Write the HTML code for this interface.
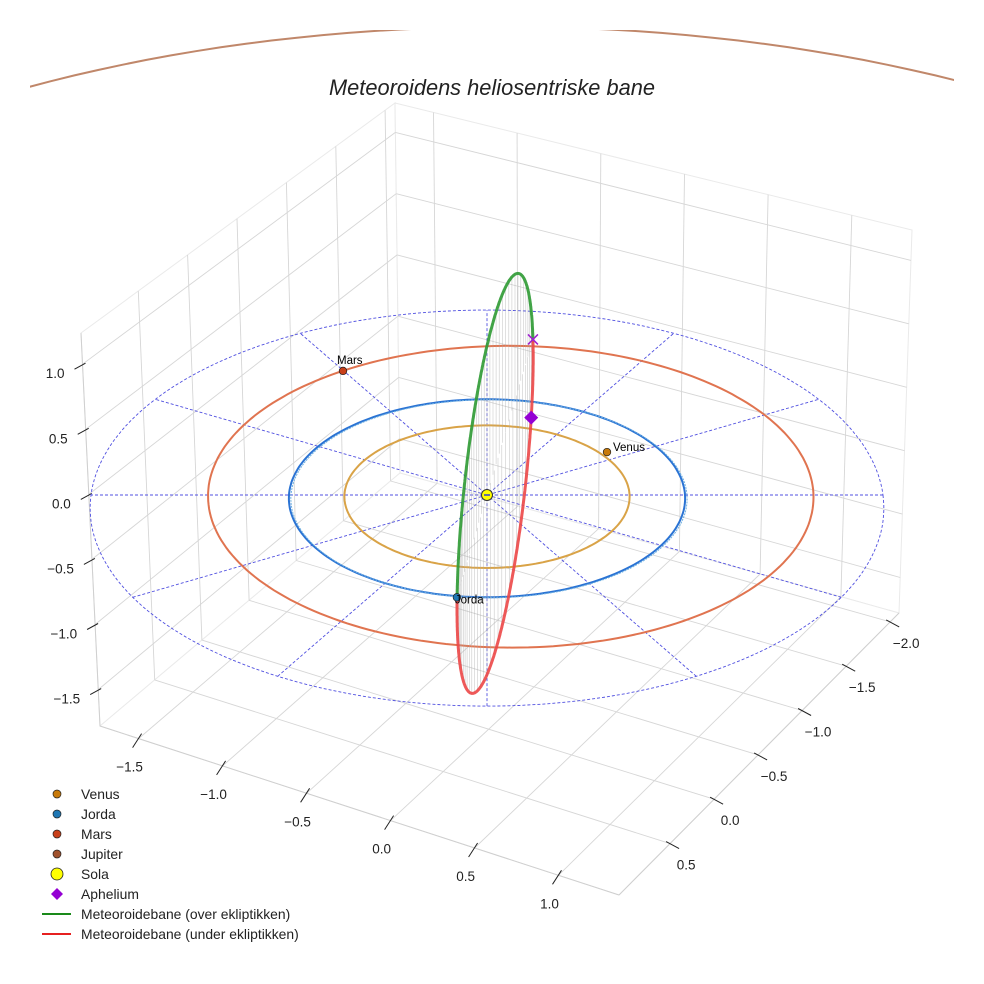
<!DOCTYPE html>
<html><head><meta charset="utf-8"><title>Meteoroidens heliosentriske bane</title>
<style>
html,body{margin:0;padding:0;background:#fff;}
svg{display:block;font-family:"Liberation Sans",sans-serif;}
</style></head>
<body>
<svg id="chart" width="984" height="984" viewBox="0 0 984 984" xmlns="http://www.w3.org/2000/svg">
<defs><clipPath id="topclip"><rect x="30" y="30" width="924" height="100"/></clipPath></defs>
<g id="box"></g>
<g id="plot"></g>
<text x="492" y="95" text-anchor="middle" font-size="21.8" font-style="italic" fill="#222">Meteoroidens heliosentriske bane</text>
<g id="legend"></g>
</svg>
<script>
// ---- data ----
const xTicks = [-1.5, -1.0, -0.5, 0.0, 0.5, 1.0];
const yTicks = [-2.0, -1.5, -1.0, -0.5, 0.0, 0.5];
const zTicks = [-1.5, -1.0, -0.5, 0.0, 0.5, 1.0];
const xRange = [-1.73, 1.36];
const yRange = [-2.1, 1.08];
const zRange = [-1.78, 1.24];
const planetNames = ["Venus", "Jorda", "Mars"];
const planetOrbitRadius = [0.72, 1.0, 1.53];
const planetOrbitCenterX = [0.0, 0.0, 0.12];
const planetOrbitCenterY = [0.0, 0.0, -0.06];
const planetPosX = [0.615, -0.147, -0.76];
const planetPosY = [-0.44, 1.0, -1.31];
const jupiterOrbitRadius = [5.05];
const jupiterOrbitCenter = [0.09, 0.32];
const refCircleRadius = [2.0];
const spokeAngles = [0, 30, 60, 90, 120, 150];
const meteorEcc = [0.27];
const meteorSemiLatus = [1.254];
const meteorPeriArg = [20];
const meteorIncl = [90];
const meteorNodeLon = [98.4];

// ---- projection ----
function f(D){return 1+0.033*D;}
function proj(X,D,Z){const k=f(D);return [487+198*X*k, 495+(99*D-130*Z)*k];}
function projFlat(X,D){return [487+198*X, 495+99*D];}
const Lt=[81,333],Bt=[395,103],Rt=[912,230],Lb=[100,726],Bb=[400,473],Rb=[899,613],Fb=[619,895];
function bil(p00,p10,p11,p01,u,v){
  const a=[p00[0]+(p10[0]-p00[0])*u, p00[1]+(p10[1]-p00[1])*u];
  const b=[p01[0]+(p11[0]-p01[0])*u, p01[1]+(p11[1]-p01[1])*u];
  return [a[0]+(b[0]-a[0])*v, a[1]+(b[1]-a[1])*v];
}
const ux=x=>(x-xRange[0])/(xRange[1]-xRange[0]);
const vy=y=>(yRange[1]-y)/(yRange[1]-yRange[0]);
const wz=z=>(zRange[1]-z)/(zRange[1]-zRange[0]);
const floorPt=(x,y)=>bil(Lb,Fb,Rb,Bb,ux(x),vy(y));
const leftPt=(y,z)=>bil(Lt,Bt,Bb,Lb,vy(y),wz(z));
const rightPt=(x,z)=>bil(Bt,Rt,Rb,Bb,ux(x),wz(z));

const NS="http://www.w3.org/2000/svg";
function el(tag,attrs,parent){const e=document.createElementNS(NS,tag);for(const k in attrs)e.setAttribute(k,attrs[k]);parent.appendChild(e);return e;}
function line(p,q,attrs,parent){return el('line',Object.assign({x1:p[0].toFixed(1),y1:p[1].toFixed(1),x2:q[0].toFixed(1),y2:q[1].toFixed(1)},attrs),parent);}
function pathD(pts){return pts.map((p,i)=>(i?'L':'M')+p[0].toFixed(1)+' '+p[1].toFixed(1)).join('');}

const box=document.getElementById('box');
const plot=document.getElementById('plot');
// panes
[[Lt,Bt,Bb,Lb],[Bt,Rt,Rb,Bb],[Lb,Fb,Rb,Bb]].forEach((q,i)=>{
  const p=el('polygon',{points:q.map(a=>a.join(',')).join(' '),fill:'#fff',stroke:'#eaeaea','stroke-width':1},box);
  
  
});
const gs={stroke:'#d6d6d6','stroke-width':0.9};
xTicks.forEach(x=>{
  const a=line(floorPt(x,yRange[1]),floorPt(x,yRange[0]),gs,box);
  
  
  const b=line(rightPt(x,zRange[0]),rightPt(x,zRange[1]),gs,box);
  
  
});
yTicks.forEach(y=>{
  const a=line(floorPt(xRange[0],y),floorPt(xRange[1],y),gs,box);
  
  
  const b=line(leftPt(y,zRange[0]),leftPt(y,zRange[1]),gs,box);
  
  
});
zTicks.forEach(z=>{
  const a=line(leftPt(yRange[1],z),leftPt(yRange[0],z),gs,box);
  
  
  const b=line(rightPt(xRange[0],z),rightPt(xRange[1],z),gs,box);
  
  
});
// axis edges
[[Lb,Fb],[Fb,Rb],[Lt,Lb]].forEach(e=>{
  const a=line(e[0],e[1],{stroke:'#cfcfcf','stroke-width':1},box);
  
  
});
// ticks + labels
const ts={stroke:'#222','stroke-width':1};
xTicks.forEach(x=>{
  const p=floorPt(x,yRange[1]);
  const t=line([p[0]+3,p[1]-5],[p[0]-6,p[1]+9],ts,box);
  
  
  const l=el('text',{x:(p[0]-9).toFixed(1),y:(p[1]+33).toFixed(1),'text-anchor':'middle','font-size':13.5,fill:'#222'},box);
  l.textContent=x.toFixed(1).replace('-','\u2212');
  
  
});
yTicks.forEach(y=>{
  const p=floorPt(xRange[1],y);
  const t=line([p[0]-4,p[1]-2],[p[0]+9,p[1]+5],ts,box);
  
  
  const l=el('text',{x:(p[0]+16).toFixed(1),y:(p[1]+26).toFixed(1),'text-anchor':'middle','font-size':13.5,fill:'#222'},box);
  l.textContent=y.toFixed(1).replace('-','\u2212');
  
  
});
zTicks.forEach(z=>{
  const p=leftPt(yRange[1],z);
  const t=line([p[0]-8,p[1]+5],[p[0]+3,p[1]-1],ts,box);
  
  
  const l=el('text',{x:(p[0]-18).toFixed(1),y:(p[1]+14).toFixed(1),'text-anchor':'end','font-size':13.5,fill:'#222'},box);
  l.textContent=z.toFixed(1).replace('-','\u2212');
  
  
});

// ---- plot ----
function circlePts(cx,cy,r,flat){const pts=[];for(let i=0;i<=240;i++){const a=i/240*2*Math.PI;const X=cx+r*Math.cos(a),D=cy+r*Math.sin(a);pts.push(flat?projFlat(X,D):proj(X,D,0));}return pts;}
// jupiter
const jup=el('path',{d:pathD(circlePts(jupiterOrbitCenter[0],jupiterOrbitCenter[1],jupiterOrbitRadius[0],true)),fill:'none',stroke:'#c0876a','stroke-width':2,'clip-path':'url(#topclip)'},plot);


// reference circle + spokes
const ds={fill:'none',stroke:'#5050e0','stroke-width':0.9,'stroke-dasharray':'3,2'};
const rc=el('path',Object.assign({d:pathD(circlePts(0,0,refCircleRadius[0]))},ds),plot);


spokeAngles.forEach(a=>{
  const r=refCircleRadius[0],t=a*Math.PI/180;
  const s=line(proj(r*Math.cos(t),r*Math.sin(t),0),proj(-r*Math.cos(t),-r*Math.sin(t),0),ds,plot);
  
  
});
// planet orbits
const orbitColors=['#d9a347','#2a73d4','#e07450'];
planetNames.forEach((n,i)=>{
  const o=el('path',{d:pathD(circlePts(planetOrbitCenterX[i],planetOrbitCenterY[i],planetOrbitRadius[i])),fill:'none',stroke:orbitColors[i],'stroke-width':2},plot);
  
  
});
const eo2=el('path',{d:pathD(circlePts(0.01,0.005,planetOrbitRadius[1])),fill:'none',stroke:'#6fb0e0','stroke-width':1,'stroke-dasharray':'2,1'},plot);



// meteoroid orbit
const e=meteorEcc[0],p=meteorSemiLatus[0],w=meteorPeriArg[0]*Math.PI/180,inc=meteorIncl[0]*Math.PI/180,nl=meteorNodeLon[0]*Math.PI/180;
const n=[Math.cos(nl),Math.sin(nl)],m=[-n[1],n[0]];
function mpos(u){const r=p/(1+e*Math.cos(u-w));const c=Math.cos(u),s=Math.sin(u);
  return [r*(c*n[0]+s*Math.cos(inc)*m[0]), r*(c*n[1]+s*Math.cos(inc)*m[1]), r*s*Math.sin(inc)];}
const vg=el('g',{stroke:'#a8a8a8','stroke-width':0.6,opacity:0.6},plot);


for(let i=0;i<72;i++){const u=i/72*2*Math.PI;const q=mpos(u);
  const v=line(proj(q[0],q[1],q[2]),proj(q[0],q[1],0),{},vg);
  
  
}
// segments
let seg=[],segs=[],prev=null;
for(let i=0;i<=720;i++){const u=i/720*2*Math.PI;const q=mpos(u);const up=q[2]>=0;const pt=proj(q[0],q[1],q[2]);
  if(prev!==null&&up!==prev){seg.push(pt);segs.push([prev,seg]);seg=[];}
  seg.push(pt);prev=up;}
segs.push([prev,seg]);
segs.forEach(sg=>{
  const pth=el('path',{d:pathD(sg[1]),fill:'none',stroke:sg[0]?'#2e9a33':'#ec4747','stroke-width':3,'stroke-linejoin':'round','stroke-linecap':'round',opacity:0.9},plot);
  
  
});
// node X marker and aphelion
const node2=mpos(Math.PI+1e-6),nP=proj(node2[0],node2[1],0);
const xm=el('path',{d:`M${nP[0]-5} ${nP[1]-5}L${nP[0]+5} ${nP[1]+5}M${nP[0]-5} ${nP[1]+5}L${nP[0]+5} ${nP[1]-5}`,stroke:'#a020d0','stroke-width':1.5},plot);


const ap=mpos(w+Math.PI),aP=proj(ap[0],ap[1],ap[2]);
const dm=el('path',{d:`M${aP[0]} ${aP[1]-7}L${aP[0]+7} ${aP[1]}L${aP[0]} ${aP[1]+7}L${aP[0]-7} ${aP[1]}Z`,fill:'#9400d3'},plot);


// sun
const sun=el('circle',{cx:487,cy:495,r:5.5,fill:'#ffff00',stroke:'#333','stroke-width':1},plot);


const sunc=el('path',{d:'M484 495L490 495',stroke:'#3040d0','stroke-width':1.5},plot);


// planets
const planetColors=['#c87a0a','#1f77b4','#c8401a'];
const labelOff=[[6,-1],[-2,6],[-6,-7]];
planetNames.forEach((nm,i)=>{
  const q=proj(planetPosX[i],planetPosY[i],0);
  const c=el('circle',{cx:q[0].toFixed(1),cy:q[1].toFixed(1),r:3.8,fill:planetColors[i],stroke:'#222','stroke-width':0.7},plot);
  
  
  const t=el('text',{x:(q[0]+labelOff[i][0]).toFixed(1),y:(q[1]+labelOff[i][1]).toFixed(1),'font-size':11.5,fill:'#000'},plot);
  t.textContent=nm;
  
  
});

// ---- legend ----
const legendLabels=["Venus","Jorda","Mars","Jupiter","Sola","Aphelium","Meteoroidebane (over ekliptikken)","Meteoroidebane (under ekliptikken)"];
const legendColors=['#c87a0a','#1f77b4','#c8401a','#a0522d','#ffff00','#9400d3','#1a8a1a','#e62020'];
const lg=document.getElementById('legend');
legendLabels.forEach((lb,i)=>{
  const y=794+i*20;
  const g=el('g',{},lg);
  
  
  let mk;
  if(i<4) mk=el('circle',{cx:57,cy:y,r:4,fill:legendColors[i],stroke:'#222','stroke-width':0.7},g);
  else if(i===4) mk=el('circle',{cx:57,cy:y,r:6,fill:legendColors[i],stroke:'#222','stroke-width':0.8},g);
  else if(i===5) mk=el('path',{d:`M57 ${y-6}L63 ${y}L57 ${y+6}L51 ${y}Z`,fill:legendColors[i]},g);
  else mk=el('line',{x1:42,y1:y,x2:71,y2:y,stroke:legendColors[i],'stroke-width':2},g);
  
  
  const t=el('text',{x:81,y:y+5,'font-size':13.9,fill:'#222'},g);
  t.textContent=lb;
  
  
});
</script>
</body></html>
